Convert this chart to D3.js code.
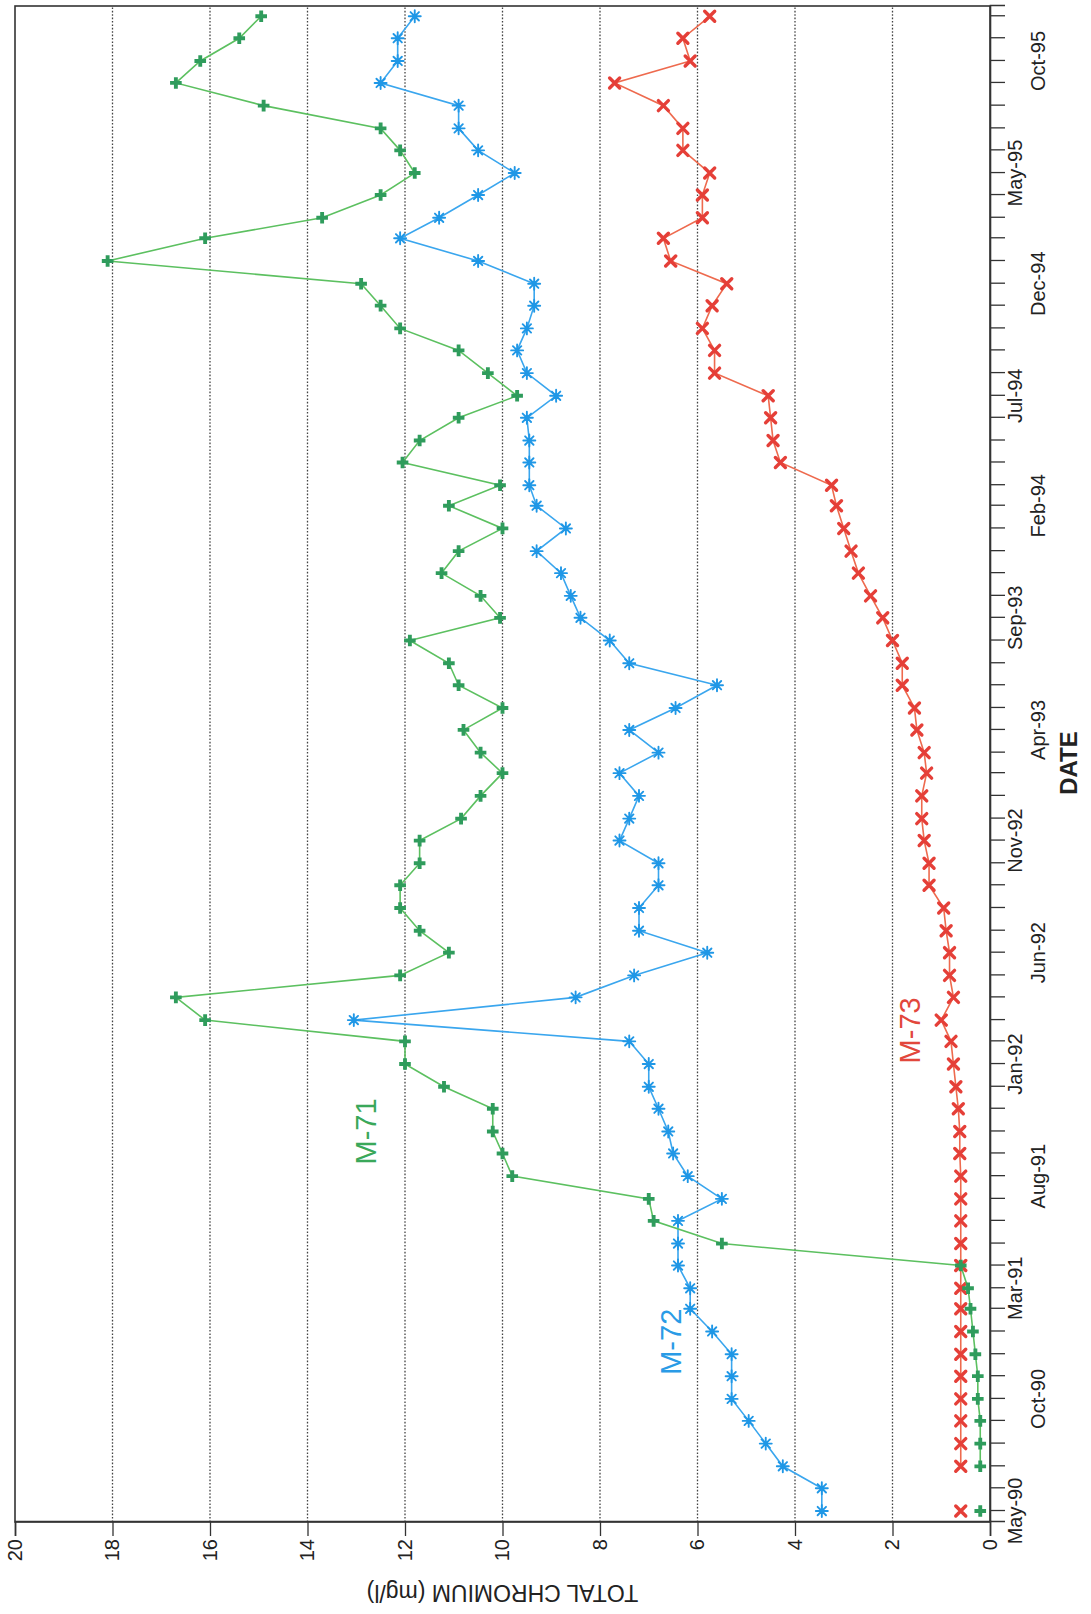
<!DOCTYPE html>
<html>
<head>
<meta charset="utf-8">
<script src="https://cdn.jsdelivr.net/npm/d3@7"></script>
<style>
  body { margin: 0; background: #fff; }
  text { font-family: "Liberation Sans", Arial, sans-serif; fill: #222; }
</style>
</head>
<body>
<div id="chart"></div>
<script>
// sample months (first of month)
var months = [
  "1990-05","1990-06","1990-07","1990-08","1990-09","1990-10","1990-11","1990-12",
  "1991-01","1991-02","1991-03","1991-04","1991-05","1991-06","1991-07","1991-08","1991-09","1991-10","1991-11","1991-12",
  "1992-01","1992-02","1992-03","1992-04","1992-05","1992-06","1992-07","1992-08","1992-09","1992-10","1992-11","1992-12",
  "1993-01","1993-02","1993-03","1993-04","1993-05","1993-06","1993-07","1993-08","1993-09","1993-10","1993-11","1993-12",
  "1994-01","1994-02","1994-03","1994-04","1994-05","1994-06","1994-07","1994-08","1994-09","1994-10","1994-11","1994-12",
  "1995-01","1995-02","1995-03","1995-04","1995-05","1995-06","1995-07","1995-08","1995-09","1995-10","1995-11","1995-12"
];

// total chromium, mg/l
var m71 = [
  0.2, null, 0.2, 0.2, 0.2, 0.25, 0.25, 0.3,
  0.35, 0.4, 0.45, 0.6, 5.5, 6.9, 7.0, 9.8, 10.0, 10.2, 10.2, 11.2,
  12.0, 12.0, 16.1, 16.7, 12.1, 11.1, 11.7, 12.1, 12.1, 11.7, 11.7, 10.85,
  10.45, 10.0, 10.45, 10.8, 10.0, 10.9, 11.1, 11.9, 10.05, 10.45, 11.25, 10.9,
  10.0, 11.1, 10.05, 12.05, 11.7, 10.9, 9.7, 10.3, 10.9, 12.1, 12.5, 12.9,
  18.1, 16.1, 13.7, 12.5, 11.8, 12.1, 12.5, 14.9, 16.7, 16.2, 15.4, 14.95
];
var m72 = [
  3.45, 3.45, 4.25, 4.6, 4.95, 5.3, 5.3, 5.3,
  5.7, 6.15, 6.15, 6.4, 6.4, 6.4, 5.5, 6.2, 6.5, 6.6, 6.8, 7.0,
  7.0, 7.4, 13.05, 8.5, 7.3, 5.8, 7.2, 7.2, 6.8, 6.8, 7.6, 7.4,
  7.2, 7.6, 6.8, 7.4, 6.45, 5.6, 7.4, 7.8, 8.4, 8.6, 8.8, 9.3,
  8.7, 9.3, 9.45, 9.45, 9.45, 9.5, 8.9, 9.5, 9.7, 9.5, 9.35, 9.35,
  10.5, 12.1, 11.3, 10.5, 9.75, 10.5, 10.9, 10.9, 12.5, 12.15, 12.15, 11.8
];
var m73 = [
  0.6, null, 0.6, 0.6, 0.6, 0.6, 0.6, 0.6,
  0.6, 0.6, 0.6, 0.6, 0.6, 0.6, 0.6, 0.6, 0.62, 0.62, 0.65, 0.7,
  0.75, 0.8, 1.0, 0.75, 0.83, 0.83, 0.9, 0.95, 1.25, 1.25, 1.35, 1.4,
  1.4, 1.3, 1.35, 1.5, 1.55, 1.8, 1.8, 2.0, 2.2, 2.45, 2.7, 2.85,
  3.0, 3.15, 3.25, 4.3, 4.45, 4.5, 4.55, 5.65, 5.65, 5.9, 5.7, 5.4,
  6.55, 6.7, 5.9, 5.9, 5.75, 6.3, 6.3, 6.7, 7.7, 6.15, 6.3, 5.75
];

var valueTicks = [0, 2, 4, 6, 8, 10, 12, 14, 16, 18, 20];
var dateLabels = ["1990-05","1990-10","1991-03","1991-08","1992-01","1992-06","1992-11",
                  "1993-04","1993-09","1994-02","1994-07","1994-12","1995-05","1995-10"];

// series label anchors (date, value)
var seriesLabels = [
  {name: "M-71", date: "1991-10-01", value: 12.8, color: "#3aa85a"},
  {name: "M-72", date: "1990-12-18", value: 6.55, color: "#2a9be6"},
  {name: "M-73", date: "1992-02-16", value: 1.65, color: "#e2473c"}
];

var parseMonth = d3.timeParse("%Y-%m");
var parseDay = d3.timeParse("%Y-%m-%d");
var fmt = d3.timeFormat("%b-%y");

// the chart is drawn upright, then turned a quarter turn counter-clockwise
var W = 1516, H = 975;

var svg = d3.select("#chart")
  .append("svg")
  .attr("width", 1091)
  .attr("height", 1614);

svg.append("rect").attr("width", 1091).attr("height", 1614).attr("fill", "#fff");

var g = svg.append("g")
  .attr("transform", "translate(15,1522) rotate(-90)");

var x = d3.scaleTime()
  .domain([parseDay("1990-04-16"), parseDay("1995-12-15")])
  .range([0, W]);

var y = d3.scaleLinear()
  .domain([0, 20])
  .range([H, 0]);

// gridlines
g.append("g")
  .selectAll("line")
  .data(valueTicks.filter(function(d) { return d > 0 && d < 20; }))
  .enter().append("line")
    .attr("x1", 0).attr("x2", W)
    .attr("y1", function(d) { return y(d); })
    .attr("y2", function(d) { return y(d); })
    .attr("stroke", "#444")
    .attr("stroke-width", 1.3)
    .attr("stroke-dasharray", "1.6,1.8");

// frame
g.append("rect")
  .attr("width", W).attr("height", H)
  .attr("fill", "none")
  .attr("stroke", "#333")
  .attr("stroke-width", 1.6);

// date axis (monthly ticks)
var xAxis = g.append("g")
  .attr("transform", "translate(0," + H + ")")
  .call(d3.axisBottom(x).ticks(d3.timeMonth.every(1)).tickSize(15).tickFormat(""));
xAxis.select(".domain").attr("stroke", "#333").attr("stroke-width", 1.6);
xAxis.selectAll(".tick line").attr("stroke", "#333").attr("stroke-width", 1.3);

g.append("g")
  .selectAll("text")
  .data(dateLabels)
  .enter().append("text")
    .attr("x", function(d) { return x(parseMonth(d)); })
    .attr("y", function(d, i) { return H + (i % 2 === 0 ? 18 : 41); })
    .attr("dy", "0.72em")
    .attr("text-anchor", "middle")
    .style("font-size", "20px")
    .text(function(d) { return fmt(parseMonth(d)); });

g.append("text")
  .attr("x", 759)
  .attr("y", H + 70)
  .attr("dy", "0.72em")
  .attr("text-anchor", "middle")
  .style("font-size", "24px")
  .style("font-weight", "bold")
  .text("DATE");

// value axis
var yAxis = g.append("g")
  .call(d3.axisLeft(y).tickValues(valueTicks).tickSize(14).tickPadding(3));
yAxis.select(".domain").attr("stroke", "#333").attr("stroke-width", 1.6);
yAxis.selectAll(".tick line").attr("stroke", "#333").attr("stroke-width", 1.3);
yAxis.selectAll(".tick text").style("font-size", "20px").attr("fill", "#222")
  .style("font-family", "'Liberation Sans', Arial, sans-serif");

g.append("text")
  .attr("transform", "translate(-71," + (H / 2) + ") rotate(-90)")
  .attr("text-anchor", "middle")
  .attr("dominant-baseline", "central")
  .style("font-size", "23px")
  .text("TOTAL CHROMIUM (mg/l)");

// series
function rows(vals) {
  return months.map(function(m, i) { return {date: parseMonth(m), value: vals[i]}; });
}

var line = d3.line()
  .defined(function(d) { return d.value != null; })
  .x(function(d) { return x(d.date); })
  .y(function(d) { return y(d.value); });

var markX = "M-5,-5L5,5M5,-5L-5,5";
var markStar = "M0,-6V6M-6,0H6M-4.2,-4.2L4.2,4.2M4.2,-4.2L-4.2,4.2";

var series = [
  {vals: m73, line: "#ee6a4e", mark: "#e53f38", path: markX, sw: 3.4},
  {vals: m72, line: "#3aa6ee", mark: "#1f97e6", path: markStar, sw: 1.9},
  {vals: m71, line: "#5cc060", mark: "#2f9c5c", path: null, sw: 0}
];

series.forEach(function(s) {
  var data = rows(s.vals);
  g.append("path")
    .datum(data)
    .attr("fill", "none")
    .attr("stroke", s.line)
    .attr("stroke-width", 1.6)
    .attr("d", line);

  var pts = g.append("g")
    .selectAll("path")
    .data(data.filter(function(d) { return d.value != null; }))
    .enter().append("path")
      .attr("transform", function(d) { return "translate(" + x(d.date) + "," + y(d.value) + ")"; });
  if (s.path) {
    pts.attr("d", s.path)
      .attr("fill", "none")
      .attr("stroke", s.mark)
      .attr("stroke-width", s.sw)
      .attr("stroke-linecap", "round");
  } else {
    pts.attr("d", d3.symbol(d3.symbolCross).size(75))
      .attr("fill", s.mark);
  }
});

// series labels
g.append("g")
  .selectAll("text")
  .data(seriesLabels)
  .enter().append("text")
    .attr("x", function(d) { return x(parseDay(d.date)); })
    .attr("y", function(d) { return y(d.value); })
    .attr("text-anchor", "middle")
    .attr("dominant-baseline", "central")
    .style("font-size", "29px")
    .style("fill", function(d) { return d.color; })
    .text(function(d) { return d.name; });
</script>
</body>
</html>
